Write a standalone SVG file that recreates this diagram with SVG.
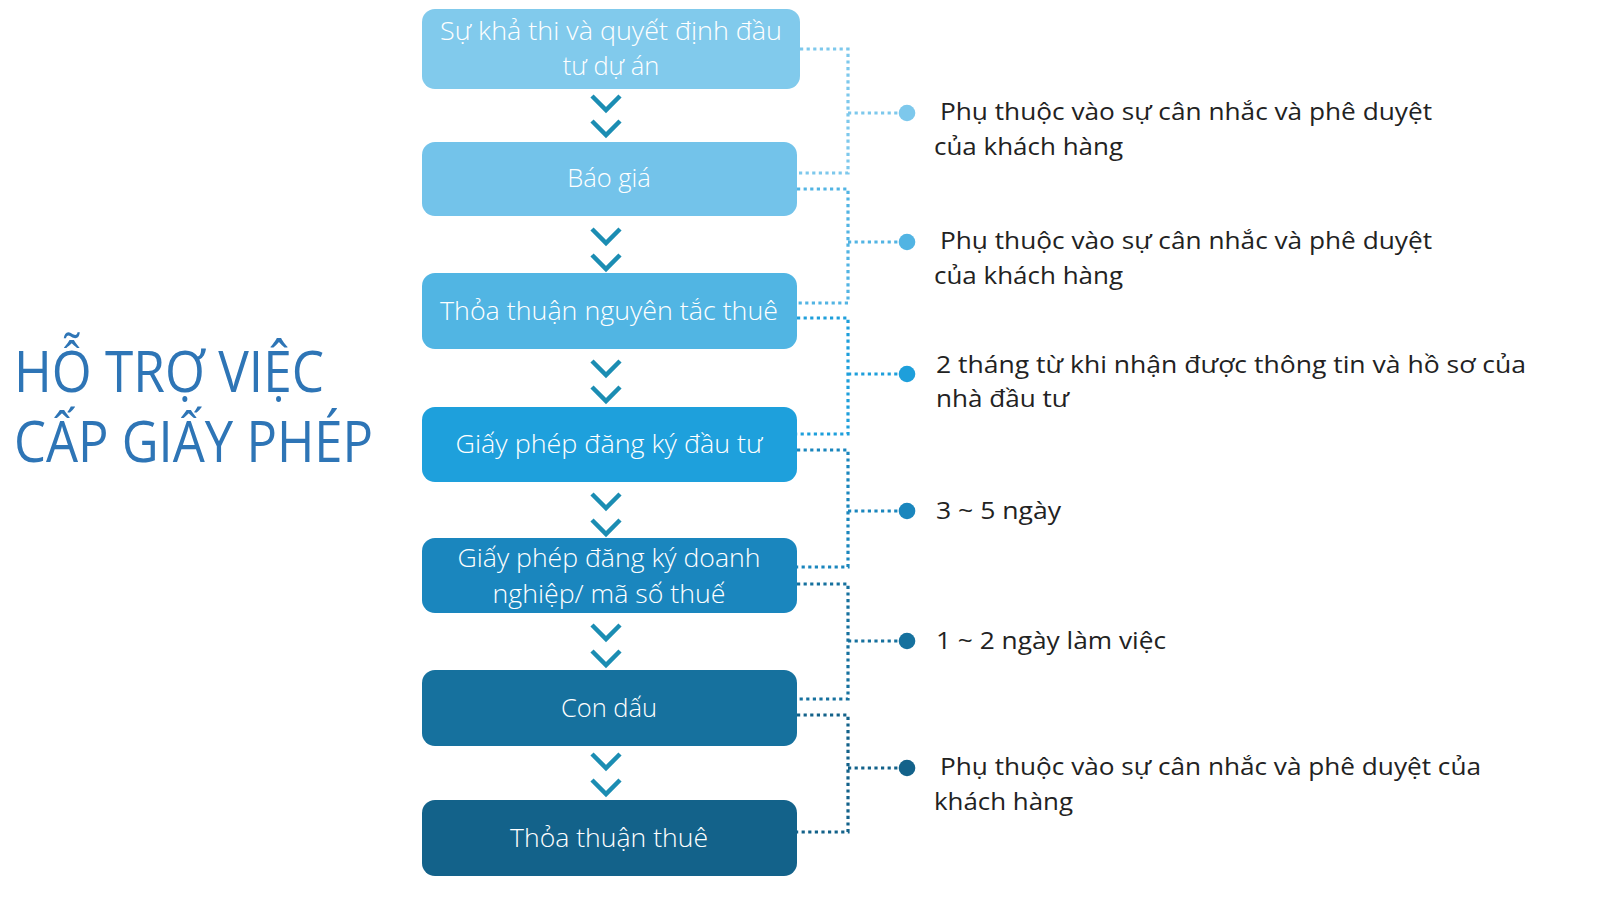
<svg xmlns="http://www.w3.org/2000/svg" xmlns:xlink="http://www.w3.org/1999/xlink" width="1600" height="900" viewBox="0 0 1600 900">
<style>
.box text{font-family:"Open Sans","Liberation Sans",sans-serif;font-weight:300;font-size:25.5px;fill:#fff;text-anchor:middle}
.note{font-family:"Open Sans","Liberation Sans",sans-serif;font-size:24px;fill:#222}
.title{font-family:"Open Sans","Liberation Sans",sans-serif;font-size:56px;fill:#2E75B6}
.chev{fill:none;stroke:#1B8DB3;stroke-width:4.5}
.con path{fill:none;stroke-width:3.2;stroke-dasharray:3.2 3.4}
</style>
<defs>
<path id="chev" d="M-14,-7 L0,7 L14,-7"/>
</defs>
<rect width="1600" height="900" fill="#fff"/>
<g id="title">
<text class="title" x="14" y="392" textLength="310" lengthAdjust="spacingAndGlyphs">HỖ TRỢ VIỆC</text>
<text class="title" x="14" y="462" textLength="359" lengthAdjust="spacingAndGlyphs">CẤP GIẤY PHÉP</text>
</g>
<g id="chevrons" class="chev">
<use xlink:href="#chev" x="606" y="103"/><use xlink:href="#chev" x="606" y="128"/>
<use xlink:href="#chev" x="606" y="236"/><use xlink:href="#chev" x="606" y="262"/>
<use xlink:href="#chev" x="606" y="368"/><use xlink:href="#chev" x="606" y="394"/>
<use xlink:href="#chev" x="606" y="501"/><use xlink:href="#chev" x="606" y="527"/>
<use xlink:href="#chev" x="606" y="632"/><use xlink:href="#chev" x="606" y="658"/>
<use xlink:href="#chev" x="606" y="761"/><use xlink:href="#chev" x="606" y="787"/>
</g>
<g id="connectors" class="con">
<path stroke="#7DC8EC" d="M800,49 H848 V173 H797 M848,113 H900"/>
<path stroke="#52B4E3" d="M797,189 H848 V303 H797 M848,242 H900"/>
<path stroke="#1E9FDB" d="M797,318 H848 V434 H797 M848,374 H900"/>
<path stroke="#1A86BD" d="M797,450 H848 V567 H797 M848,511 H900"/>
<path stroke="#16719E" d="M797,584 H848 V699 H797 M848,641 H900"/>
<path stroke="#13628A" d="M797,715 H848 V832 H797 M848,768 H900"/>
</g>
<g id="node1" class="box">
<rect x="422" y="9" width="378" height="80" rx="13" fill="#81CAEC"/>
<text x="611" y="40" textLength="342" lengthAdjust="spacingAndGlyphs">Sự khả thi và quyết định đầu</text>
<text x="611" y="75">tư dự án</text>
</g>
<g id="node2" class="box">
<rect x="422" y="142" width="375" height="74" rx="13" fill="#73C3EA"/>
<text x="609" y="187">Báo giá</text>
</g>
<g id="node3" class="box">
<rect x="422" y="273" width="375" height="76" rx="13" fill="#51B5E3"/>
<text x="609" y="320" textLength="338" lengthAdjust="spacingAndGlyphs">Thỏa thuận  nguyên tắc thuê</text>
</g>
<g id="node4" class="box">
<rect x="422" y="407" width="375" height="75" rx="13" fill="#1EA0DC"/>
<text x="609" y="453" textLength="307" lengthAdjust="spacingAndGlyphs">Giấy phép đăng ký đầu tư</text>
</g>
<g id="node5" class="box">
<rect x="422" y="538" width="375" height="75" rx="13" fill="#1A86BE"/>
<text x="609" y="567" textLength="303" lengthAdjust="spacingAndGlyphs">Giấy phép đăng ký doanh</text>
<text x="609" y="603" textLength="233" lengthAdjust="spacingAndGlyphs">nghiệp/ mã số thuế</text>
</g>
<g id="node6" class="box">
<rect x="422" y="670" width="375" height="76" rx="13" fill="#16719E"/>
<text x="609" y="717">Con dấu</text>
</g>
<g id="node7" class="box">
<rect x="422" y="800" width="375" height="76" rx="13" fill="#13628A"/>
<text x="609" y="847" textLength="198" lengthAdjust="spacingAndGlyphs">Thỏa thuận  thuê</text>
</g>
<g id="note1">
<circle cx="907" cy="113" r="8.3" fill="#7DC8EC"/>
<text class="note" x="940" y="120" textLength="492" lengthAdjust="spacingAndGlyphs">Phụ thuộc vào sự cân nhắc và phê duyệt</text>
<text class="note" x="934" y="155" textLength="189" lengthAdjust="spacingAndGlyphs">của khách hàng</text>
</g>
<g id="note2">
<circle cx="907" cy="242" r="8.3" fill="#52B4E3"/>
<text class="note" x="940" y="249" textLength="492" lengthAdjust="spacingAndGlyphs">Phụ thuộc vào sự cân nhắc và phê duyệt</text>
<text class="note" x="934" y="284" textLength="189" lengthAdjust="spacingAndGlyphs">của khách hàng</text>
</g>
<g id="note3">
<circle cx="907" cy="374" r="8.3" fill="#1E9FDB"/>
<text class="note" x="936" y="373" textLength="590" lengthAdjust="spacingAndGlyphs">2 tháng từ khi nhận được thông tin và hồ sơ của</text>
<text class="note" x="936" y="407" textLength="133" lengthAdjust="spacingAndGlyphs">nhà đầu tư</text>
</g>
<g id="note4">
<circle cx="907" cy="511" r="8.3" fill="#1A86BD"/>
<text class="note" x="936" y="519" textLength="125" lengthAdjust="spacingAndGlyphs">3 ~ 5 ngày</text>
</g>
<g id="note5">
<circle cx="907" cy="641" r="8.3" fill="#16719E"/>
<text class="note" x="936" y="649" textLength="230" lengthAdjust="spacingAndGlyphs">1 ~ 2 ngày làm việc</text>
</g>
<g id="note6">
<circle cx="907" cy="768" r="8.3" fill="#13628A"/>
<text class="note" x="940" y="775" textLength="541" lengthAdjust="spacingAndGlyphs">Phụ thuộc vào sự cân nhắc và phê duyệt của</text>
<text class="note" x="934" y="810" textLength="139" lengthAdjust="spacingAndGlyphs">khách hàng</text>
</g>
</svg>
